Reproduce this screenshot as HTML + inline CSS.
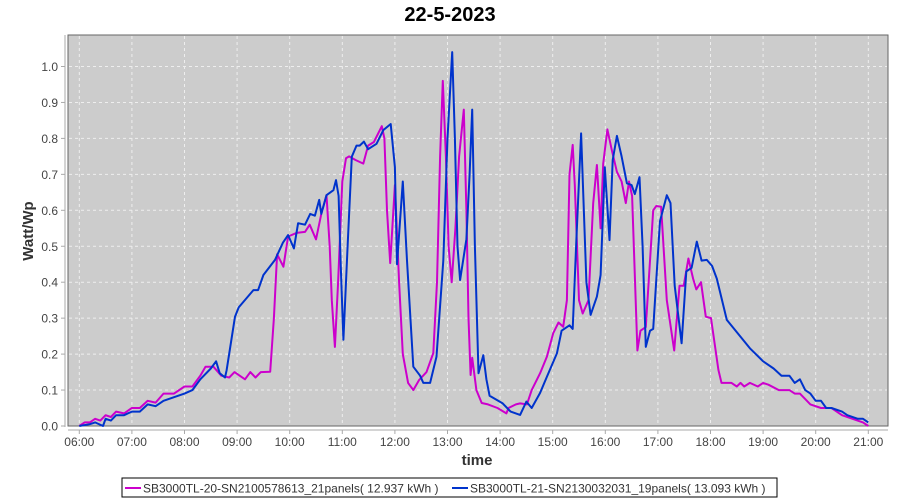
<!DOCTYPE html>
<html><head><meta charset="utf-8"><style>
body{margin:0;background:#fff;width:900px;height:500px;overflow:hidden}
svg{display:block;font-family:"Liberation Sans",sans-serif}
</style></head><body>
<svg id="s" width="900" height="500" xmlns="http://www.w3.org/2000/svg">
<text x="450" y="21" text-anchor="middle" font-size="20" font-weight="bold">22-5-2023</text>
<rect x="68" y="35" width="820" height="391" fill="#cccccc" stroke="#666" stroke-width="1"/>
<g id="grid" stroke="#eee" stroke-width="1" stroke-dasharray="3,3"></g>
<line x1="65" y1="35" x2="65" y2="427" stroke="#aaa"/>
<line x1="68" y1="430" x2="888" y2="430" stroke="#aaa"/>
<g id="ticks" font-size="12" fill="#444"></g>
<text x="477" y="465" text-anchor="middle" font-size="15" font-weight="bold" fill="#333">time</text>
<text transform="translate(33,231) rotate(-90)" text-anchor="middle" font-size="15" font-weight="bold" fill="#333">Watt/Wp</text>
<polyline id="m" fill="none" stroke="#cc00cc" stroke-width="2" stroke-linejoin="round"/>
<polyline id="b" fill="none" stroke="#0033cc" stroke-width="2" stroke-linejoin="round"/>
<rect x="122" y="478" width="655" height="19" fill="#fff" stroke="#000"/>
<line x1="125" y1="488" x2="141" y2="488" stroke="#cc00cc" stroke-width="2"/>
<text x="143" y="492.5" font-size="12" fill="#333">SB3000TL-20-SN2100578613_21panels( 12.937 kWh )</text>
<line x1="452" y1="488" x2="468" y2="488" stroke="#0033cc" stroke-width="2"/>
<text x="470" y="492.5" font-size="12" fill="#333">SB3000TL-21-SN2130032031_19panels( 13.093 kWh )</text>
</svg>
<script>
var X=function(h){return 79.3+(h-6)*52.6},Y=function(v){return 426-v*359.5};
var g=document.getElementById('grid'),t=document.getElementById('ticks'),ns='http://www.w3.org/2000/svg';
function el(p,n,a,txt){var e=document.createElementNS(ns,n);for(var k in a)e.setAttribute(k,a[k]);if(txt)e.textContent=txt;p.appendChild(e);}
for(var h=6;h<=21;h++){var x=X(h);el(g,'line',{x1:x,y1:36,x2:x,y2:425});el(t,'line',{x1:x,y1:430,x2:x,y2:434,stroke:'#aaa'});
el(t,'text',{x:x,y:446,'text-anchor':'middle'},(h<10?'0':'')+h+':00');}
for(var i=0;i<=10;i++){var y=Y(i/10);if(i>0)el(g,'line',{x1:69,y1:y,x2:887,y2:y});el(t,'line',{x1:61,y1:y,x2:65,y2:y,stroke:'#aaa'});
el(t,'text',{x:58,y:y+4.5,'text-anchor':'end'},(i/10).toFixed(1));}
var m=[6.0,0,6.1,0.01,6.2,0.01,6.3,0.02,6.4,0.015,6.5,0.03,6.6,0.025,6.7,0.04,6.85,0.035,7.0,0.05,7.15,0.05,7.3,0.07,7.45,0.065,7.6,0.09,7.8,0.09,8.0,0.11,8.15,0.11,8.3,0.14,8.4,0.165,8.55,0.165,8.7,0.14,8.85,0.135,8.95,0.15,9.05,0.14,9.15,0.13,9.25,0.15,9.35,0.135,9.45,0.15,9.63,0.151,9.7,0.3,9.76,0.478,9.88,0.443,9.97,0.527,10.13,0.537,10.29,0.54,10.38,0.56,10.5,0.519,10.6,0.59,10.70,0.642,10.76,0.5,10.8,0.35,10.86,0.22,10.92,0.4,11.0,0.68,11.07,0.745,11.13,0.75,11.25,0.74,11.4,0.73,11.49,0.78,11.6,0.79,11.75,0.834,11.8,0.8,11.85,0.6,11.91,0.453,12.0,0.67,12.08,0.4,12.15,0.2,12.25,0.12,12.35,0.10,12.46,0.128,12.6,0.15,12.73,0.203,12.8,0.4,12.86,0.75,12.91,0.96,12.97,0.75,13.02,0.5,13.08,0.40,13.15,0.55,13.22,0.75,13.31,0.88,13.36,0.6,13.4,0.3,13.44,0.142,13.47,0.19,13.55,0.1,13.65,0.064,13.77,0.06,13.95,0.05,14.12,0.035,14.16,0.05,14.3,0.06,14.38,0.063,14.51,0.06,14.6,0.10,14.76,0.147,14.89,0.193,15.01,0.258,15.11,0.288,15.2,0.276,15.27,0.35,15.32,0.7,15.38,0.782,15.42,0.67,15.5,0.35,15.57,0.313,15.68,0.35,15.77,0.62,15.84,0.726,15.91,0.55,15.96,0.73,16.04,0.825,16.12,0.77,16.22,0.707,16.31,0.68,16.39,0.62,16.45,0.68,16.51,0.64,16.61,0.21,16.67,0.265,16.77,0.275,16.91,0.60,16.97,0.612,17.06,0.61,17.17,0.35,17.31,0.21,17.41,0.39,17.49,0.39,17.58,0.466,17.67,0.41,17.73,0.38,17.82,0.40,17.91,0.304,18.01,0.3,18.15,0.156,18.21,0.12,18.4,0.12,18.5,0.11,18.57,0.12,18.64,0.11,18.75,0.12,18.9,0.11,19.0,0.12,19.1,0.115,19.3,0.1,19.5,0.1,19.6,0.09,19.7,0.09,19.9,0.06,20.1,0.05,20.3,0.05,20.5,0.03,20.7,0.02,20.9,0.01,21.0,0];
var b=[6.0,0,6.2,0.005,6.3,0.01,6.45,0.0,6.5,0.02,6.6,0.015,6.7,0.03,6.85,0.03,7.0,0.04,7.15,0.04,7.3,0.06,7.45,0.055,7.6,0.07,7.8,0.08,8.0,0.09,8.15,0.1,8.3,0.13,8.5,0.16,8.6,0.18,8.67,0.147,8.77,0.135,8.8,0.155,8.96,0.304,9.03,0.33,9.31,0.378,9.4,0.378,9.5,0.42,9.72,0.462,9.87,0.51,9.97,0.531,10.08,0.494,10.16,0.564,10.29,0.56,10.39,0.59,10.48,0.585,10.56,0.629,10.60,0.59,10.70,0.642,10.83,0.656,10.88,0.684,10.93,0.64,10.97,0.45,11.02,0.24,11.1,0.5,11.18,0.749,11.27,0.78,11.33,0.78,11.41,0.791,11.49,0.77,11.65,0.785,11.78,0.823,11.92,0.84,12.0,0.72,12.04,0.45,12.15,0.68,12.23,0.46,12.35,0.165,12.48,0.14,12.54,0.12,12.67,0.12,12.79,0.193,12.92,0.46,13.0,0.8,13.09,1.04,13.14,0.8,13.19,0.5,13.24,0.406,13.36,0.52,13.42,0.7,13.47,0.88,13.52,0.5,13.59,0.147,13.68,0.197,13.74,0.13,13.8,0.084,14.05,0.063,14.2,0.04,14.38,0.031,14.5,0.068,14.6,0.05,14.76,0.092,14.89,0.137,15.08,0.202,15.17,0.265,15.32,0.28,15.38,0.27,15.45,0.52,15.54,0.814,15.64,0.40,15.72,0.309,15.84,0.36,15.91,0.42,15.99,0.72,16.08,0.517,16.14,0.74,16.22,0.807,16.31,0.75,16.41,0.675,16.5,0.67,16.56,0.645,16.65,0.692,16.71,0.5,16.77,0.22,16.85,0.265,16.91,0.27,17.04,0.57,17.17,0.642,17.24,0.62,17.32,0.39,17.45,0.23,17.54,0.43,17.64,0.44,17.74,0.513,17.83,0.46,17.93,0.462,18.03,0.445,18.12,0.41,18.31,0.295,18.75,0.216,19.0,0.18,19.2,0.16,19.35,0.14,19.5,0.14,19.6,0.12,19.7,0.13,19.8,0.1,19.9,0.09,20.0,0.07,20.1,0.07,20.2,0.05,20.3,0.05,20.5,0.04,20.6,0.03,20.8,0.02,20.9,0.02,21.0,0.01];
function pts(a){var s=[];for(var i=0;i<a.length;i+=2)s.push(X(a[i]).toFixed(1)+','+Y(a[i+1]).toFixed(1));return s.join(' ');}
document.getElementById('m').setAttribute('points',pts(m));
document.getElementById('b').setAttribute('points',pts(b));
</script>
</body></html>
